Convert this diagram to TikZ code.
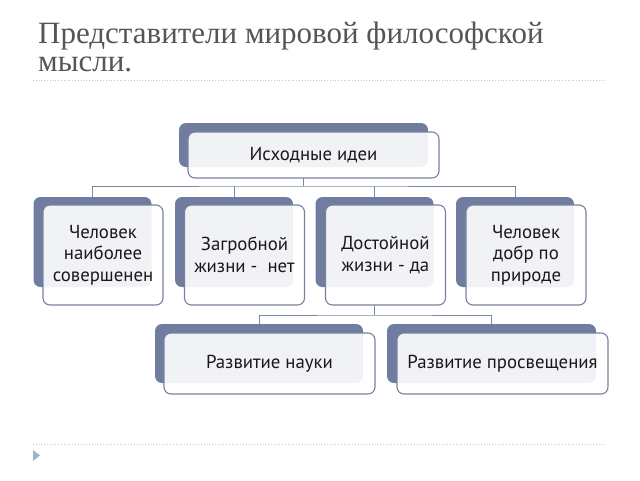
\documentclass[tikz,border=0pt]{standalone}
\usepackage{fontspec}
\setmainfont{Liberation Serif}
\newfontfamily\boxfont{PT Sans}
\definecolor{slate}{RGB}{112,124,160}
\definecolor{edge}{RGB}{120,130,158}
\definecolor{conn}{RGB}{125,135,160}
\definecolor{titlec}{RGB}{85,85,85}
\definecolor{bullet}{RGB}{160,180,200}
\tikzset{
  back/.style={draw=none, fill=slate, rounded corners=7pt, inner sep=0pt, outer sep=0pt},
  front/.style={draw=edge, line width=1.1pt, fill=white, fill opacity=0.9, text opacity=1, rounded corners=7pt, inner sep=0pt, outer sep=0pt, align=center, font=\boxfont\fontsize{18.8}{21.5}\selectfont, text=black!90},
  link/.style={draw=conn, line width=1pt},
}
\begin{document}
\begin{tikzpicture}[x=1pt,y=-1pt]
\useasboundingbox (0,0) rectangle (640,480);
% title
\node[anchor=base west, text=titlec, font=\fontsize{31}{30}\selectfont, inner sep=0pt] (t1) at (38,43) {Представители мировой философской};
\node[anchor=base west, text=titlec, font=\fontsize{31}{30}\selectfont, inner sep=0pt] (t2) at (38,71) {мысли.};
\draw[dotted, gray!45, line width=0.8pt] (33,80) -- (605,80);
\draw[dotted, gray!45, line width=0.8pt] (33,444) -- (605,444);
\fill[bullet] (33,450) -- (40,455.5) -- (33,461) -- cycle;
% top
\node[back, minimum width=249pt, minimum height=44pt] (b0) at (303.5,145) {};
\node[front, minimum width=251pt, minimum height=46pt] (f0) at (313.5,155) {Исходные идеи};
% row 2
\foreach \i/\x in {1/92.5,2/234,3/374.5,4/515}{
  \node[back, minimum width=118pt, minimum height=90pt] (b\i) at (\x,242) {};
}
\node[front, minimum width=120pt, minimum height=100pt] (f1) at (103,255) {Человек\\наиболее\\совершенен};
\node[front, minimum width=120pt, minimum height=100pt] (f2) at (244.5,255) {Загробной\\жизни -\ \ нет};
\node[front, minimum width=120pt, minimum height=100pt] (f3) at (385.5,255) {Достойной\\жизни - да};
\node[front, minimum width=120pt, minimum height=100pt] (f4) at (526,255) {Человек\\добр по\\природе};
% row 3
\node[back, minimum width=208pt, minimum height=59pt] (b5) at (259,353.5) {};
\node[front, minimum width=211pt, minimum height=61pt] (f5) at (269.5,363.5) {Развитие науки};
\node[back, minimum width=209pt, minimum height=59pt] (b6) at (491.5,353.5) {};
\node[front, minimum width=211pt, minimum height=61pt] (f6) at (502.5,363.5) {Развитие просвещения};
% connectors
\coordinate (j0) at (303.5,186);
\draw[link] (b0.south|-f0.south) -- (j0);
\draw[link] (b1.north) |- (j0) -| (b4.north);
\draw[link] (b2.north) -- (b2.north|-j0);
\draw[link] (b3.north) -- (b3.north|-j0);
\coordinate (j1) at (374.5,315);
\draw[link] (b3.south|-f3.south) -- (j1);
\draw[link] (b5.north) |- (j1) -| (b6.north);
\end{tikzpicture}
\end{document}
